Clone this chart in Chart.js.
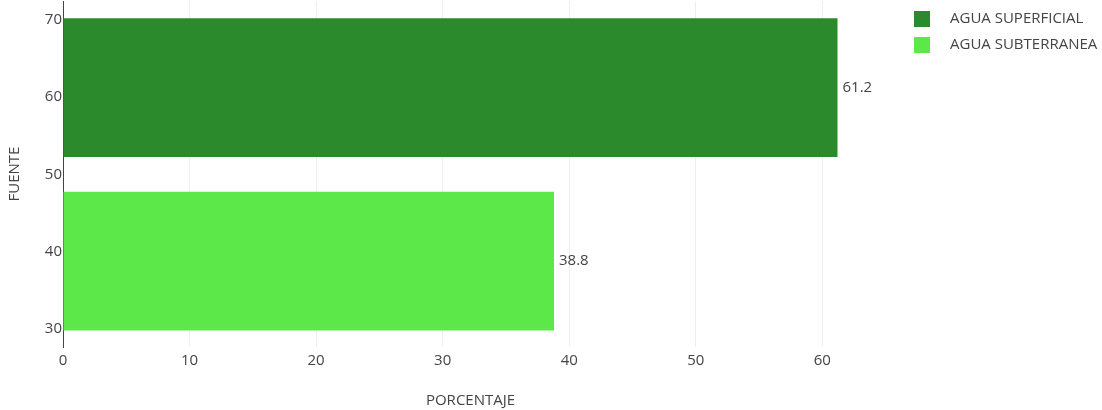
<!DOCTYPE html>
<html>
<head>
<meta charset="utf-8">
<script src="https://cdn.jsdelivr.net/npm/chart.js@4"></script>
<style>
  html, body { margin: 0; padding: 0; background: #fff; }
</style>
</head>
<body>
<canvas id="fuenteChart" width="1102" height="410"></canvas>
<script>
/* Fuente de agua - porcentaje */
const sources = ['AGUA SUPERFICIAL', 'AGUA SUBTERRANEA'];
const percentages = [61.2, 38.8];
const positions = [61.2, 38.8];      // where each bar sits on the FUENTE axis
const colors = ['#2b8a2b', '#5de84a'];
const xTicks = [0, 10, 20, 30, 40, 50, 60];
const yTicks = [30, 40, 50, 60, 70];

const FONT = "'Open Sans', sans-serif";
const TEXT = '#444';

// value labels at the end of each bar
const barLabels = {
    id: 'barLabels',
    afterDatasetsDraw(chart) {
        const ctx = chart.ctx;
        ctx.save();
        ctx.font = `15px ${FONT}`;
        ctx.fillStyle = TEXT;
        ctx.textAlign = 'left';
        ctx.textBaseline = 'middle';
        chart.data.datasets.forEach((ds, i) => {
            chart.getDatasetMeta(i).data.forEach((bar, j) => {
                ctx.fillText(String(ds.data[j].x), bar.x + 5, bar.y);
            });
        });
        ctx.restore();
    }
};

// legend top right, square swatches
const sideLegend = {
    id: 'sideLegend',
    afterDraw(chart) {
        const ctx = chart.ctx;
        ctx.save();
        ctx.font = `15px ${FONT}`;
        ctx.textBaseline = 'middle';
        chart.data.datasets.forEach((ds, i) => {
            const cy = 19 + i * 26;
            ctx.fillStyle = ds.backgroundColor;
            ctx.fillRect(914, cy - 8, 16, 16);
            ctx.fillStyle = TEXT;
            ctx.fillText(ds.label, 950, cy);
        });
        ctx.restore();
    }
};

new Chart(document.getElementById('fuenteChart'), {
    type: 'bar',
    data: {
        datasets: sources.map((s, i) => ({
            label: s,
            data: [{ x: percentages[i], y: positions[i] }],
            backgroundColor: colors[i],
            borderWidth: 0,
            grouped: false,
            categoryPercentage: 1,
            barPercentage: 0.8,
            yAxisID: 'yBars'
        }))
    },
    options: {
        indexAxis: 'y',
        responsive: false,
        animation: false,
        layout: { padding: { top: 1, right: 224, bottom: 0, left: 0 } },
        plugins: {
            legend: { display: false },
            tooltip: { enabled: false }
        },
        scales: {
            x: {
                type: 'linear',
                min: 0,
                max: 64.4,
                afterBuildTicks: a => { a.ticks = xTicks.map(v => ({ value: v })); },
                afterFit: a => { a.height = 63; a.paddingLeft = 0; a.paddingRight = 0; },
                grid: { color: '#eeeeee', drawTicks: false },
                border: { display: false },
                ticks: { color: TEXT, font: { family: FONT, size: 15 }, padding: 5, maxRotation: 0 },
                title: { display: true, text: 'PORCENTAJE', color: TEXT, font: { family: FONT, size: 15 }, padding: { top: 12, bottom: 0 } }
            },
            y: {
                type: 'linear',
                position: 'left',
                offset: false,
                min: 27.7,
                max: 72.4,
                afterBuildTicks: a => { a.ticks = yTicks.map(v => ({ value: v })); },
                afterFit: a => { a.width = 63; a.paddingTop = 0; a.paddingBottom = 0; },
                grid: { display: false, drawTicks: false, offset: false },
                border: { display: true, color: '#444', width: 1 },
                ticks: { color: TEXT, font: { family: FONT, size: 15 }, padding: 1 },
                title: { display: true, text: 'FUENTE', color: TEXT, font: { family: FONT, size: 15 }, padding: { top: 6, bottom: 0 } }
            },
            yBars: {
                type: 'linear',
                display: false,
                offset: false,
                min: 27.7,
                max: 72.4,
                grid: { offset: false },
                afterBuildTicks: a => { a.ticks = [{ value: a.min }, { value: a.max }]; }
            }
        }
    },
    plugins: [barLabels, sideLegend]
});
</script>
</body>
</html>
